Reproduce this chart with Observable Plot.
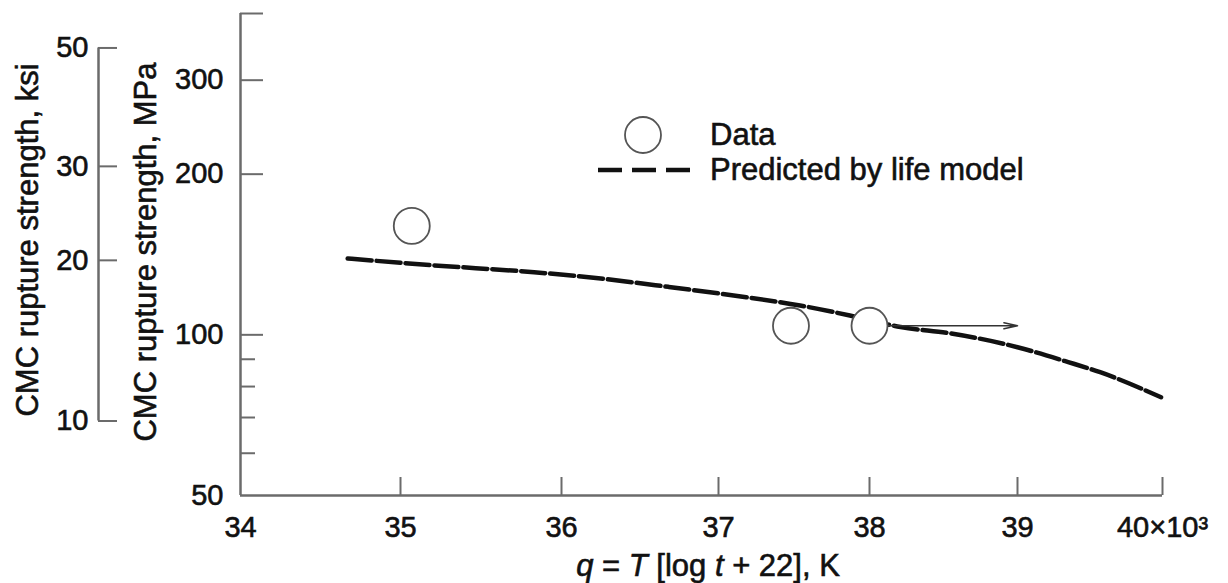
<!DOCTYPE html>
<html><head><meta charset="utf-8">
<script src="https://cdn.jsdelivr.net/npm/d3@7"></script>
<script src="https://cdn.jsdelivr.net/npm/@observablehq/plot@0.6"></script>
<style>
body{margin:0;background:#fff;}
#chart{position:relative;width:1228px;height:583px;}
#chart svg text{stroke:#111;stroke-width:0.6px;}
</style>
</head><body><div id="chart"></div>
<script>
// ---- data ----
const xTicks = [34, 35, 36, 37, 38, 39, 40];           // q, ×10^3 K
const mpaTicks = [50, 100, 200, 300];                   // labelled MPa ticks
const mpaUnlabelled = [400];                            // unlabelled major tick
const mpaMinor = [60, 70, 80, 90];                      // minor MPa ticks
const ksiTicks = [10, 20, 30, 50];                      // ksi ticks
const KSI_TO_MPA = 6.895;

const dataQ = [35.07, 37.48, 38.0];
const dataMPa = [160, 104, 104];

const modelQ   = [34.67, 35.20, 35.83, 36.25, 36.68, 37.10, 37.54, 37.87, 38.21, 38.55, 39.00, 39.35, 39.57, 39.99];
const modelMPa = [139,   135,   131,   127.5, 123,   118.5, 113.5, 108.7, 103.4, 100.6, 94.8,  88.9,  85.1,  76.4];

const runoutFromQ = [38.0];
const runoutToQ = [39.0];
const runoutMPa = [104];

// ---- tables built from the arrays ----
const points = dataQ.map((q, i) => ({q, mpa: dataMPa[i]}));
const model = modelQ.map((q, i) => ({q, mpa: modelMPa[i]}));
const runouts = runoutFromQ.map((q, i) => ({q1: q, q2: runoutToQ[i], mpa: runoutMPa[i]}));
const ksiAsMPa = ksiTicks.map(v => v * KSI_TO_MPA);

const axisColor = "#6b6b6b";
const textColor = "#111";
const font = "'Liberation Sans', Arial, Helvetica, sans-serif";
const tickFont = 29;
const titleFont = 31;

const plot = Plot.plot({
  width: 1228, height: 583,
  marginLeft: 240, marginRight: 66, marginTop: 13, marginBottom: 88,
  style: {fontFamily: font, fontSize: `${tickFont}px`, color: textColor, background: "white", overflow: "visible"},
  x: {type: "linear", domain: xTicks, range: [240, 400, 561, 718, 869, 1017, 1162], axis: null},
  y: {type: "log", domain: [50, 400], range: [495, 13], axis: null},
  marks: [
    // main axes lines
    Plot.ruleY([mpaTicks[0]], {x1: xTicks[0], x2: xTicks[xTicks.length - 1], stroke: axisColor, strokeWidth: 2.5}),
    Plot.ruleX([xTicks[0]], {y1: mpaTicks[0], y2: mpaUnlabelled[0], stroke: axisColor, strokeWidth: 2.5}),
    // inward ticks
    Plot.tickX(xTicks.slice(1), {insetTop: 464, stroke: axisColor, strokeWidth: 2}),
    Plot.tickY([...mpaTicks.slice(1), ...mpaUnlabelled], {insetRight: 899, stroke: axisColor, strokeWidth: 2}),
    Plot.tickY(mpaMinor, {insetRight: 907, stroke: axisColor, strokeWidth: 2}),
    // tick labels
    Plot.axisX(xTicks, {anchor: "bottom", tickSize: 0, tickPadding: 21, label: null, fontSize: tickFont, fill: textColor,
      tickFormat: d => d === xTicks[xTicks.length - 1] ? `${d}×10³` : String(d)}),
    Plot.axisY(mpaTicks, {anchor: "left", tickSize: 0, tickPadding: 17, label: null, fontSize: tickFont, fill: textColor,
      tickFormat: d => String(d)}),
    // secondary ksi axis
    Plot.ruleX([xTicks[0]], {y1: ksiAsMPa[0], y2: ksiAsMPa[ksiAsMPa.length - 1], dx: -142, stroke: axisColor, strokeWidth: 2.5}),
    Plot.tickY(ksiAsMPa, {insetRight: 903, dx: -142, stroke: axisColor, strokeWidth: 2}),
    Plot.axisY(ksiAsMPa, {anchor: "left", tickSize: 0, tickPadding: 10, dx: -142, label: null, fontSize: tickFont, fill: textColor,
      tickFormat: d => String(Math.round(d / KSI_TO_MPA))}),
    // model curve
    Plot.line(model, {x: "q", y: "mpa", stroke: "#111", strokeWidth: 4.5, strokeDasharray: "24,5", curve: "monotone-x"}),
    // run-out arrow
    Plot.arrow(runouts, {x1: "q1", x2: "q2", y1: "mpa", y2: "mpa", insetStart: 18, headLength: 13, headAngle: 25, stroke: "#333", strokeWidth: 1.6}),
    // data circles
    Plot.dot(points, {x: "q", y: "mpa", r: 18, stroke: "#555", strokeWidth: 1.8, fill: "white"})
  ]
});

const svg = d3.select(plot);
// legend
const lg = svg.append("g").attr("font-family", font).attr("font-size", titleFont).attr("fill", textColor).attr("text-anchor", "start");
lg.append("circle").attr("cx", 643).attr("cy", 135).attr("r", 18).attr("fill", "white").attr("stroke", "#555").attr("stroke-width", 1.8);
lg.append("text").attr("x", 710).attr("y", 134).attr("dy", "0.35em").text("Data");
lg.append("line").attr("x1", 598).attr("x2", 690).attr("y1", 170).attr("y2", 170)
  .attr("stroke", "#111").attr("stroke-width", 4.5).attr("stroke-dasharray", "24,10");
lg.append("text").attr("x", 710).attr("y", 169).attr("dy", "0.35em").text("Predicted by life model");

// axis titles
const titles = svg.append("g").attr("font-family", font).attr("font-size", titleFont).attr("fill", textColor).attr("text-anchor", "middle");
titles.append("text").attr("transform", "translate(27,240) rotate(-90)").attr("dy", "0.35em").text("CMC rupture strength, ksi");
titles.append("text").attr("transform", "translate(145,252) rotate(-90)").attr("dy", "0.35em").text("CMC rupture strength, MPa");
const xl = titles.append("text").attr("x", 708).attr("y", 576);
xl.append("tspan").attr("font-style", "italic").text("q");
xl.append("tspan").text(" = ");
xl.append("tspan").attr("font-style", "italic").text("T");
xl.append("tspan").text(" [log ");
xl.append("tspan").attr("font-style", "italic").text("t");
xl.append("tspan").text(" + 22], K");

document.getElementById("chart").appendChild(plot);
</script>
</body></html>
